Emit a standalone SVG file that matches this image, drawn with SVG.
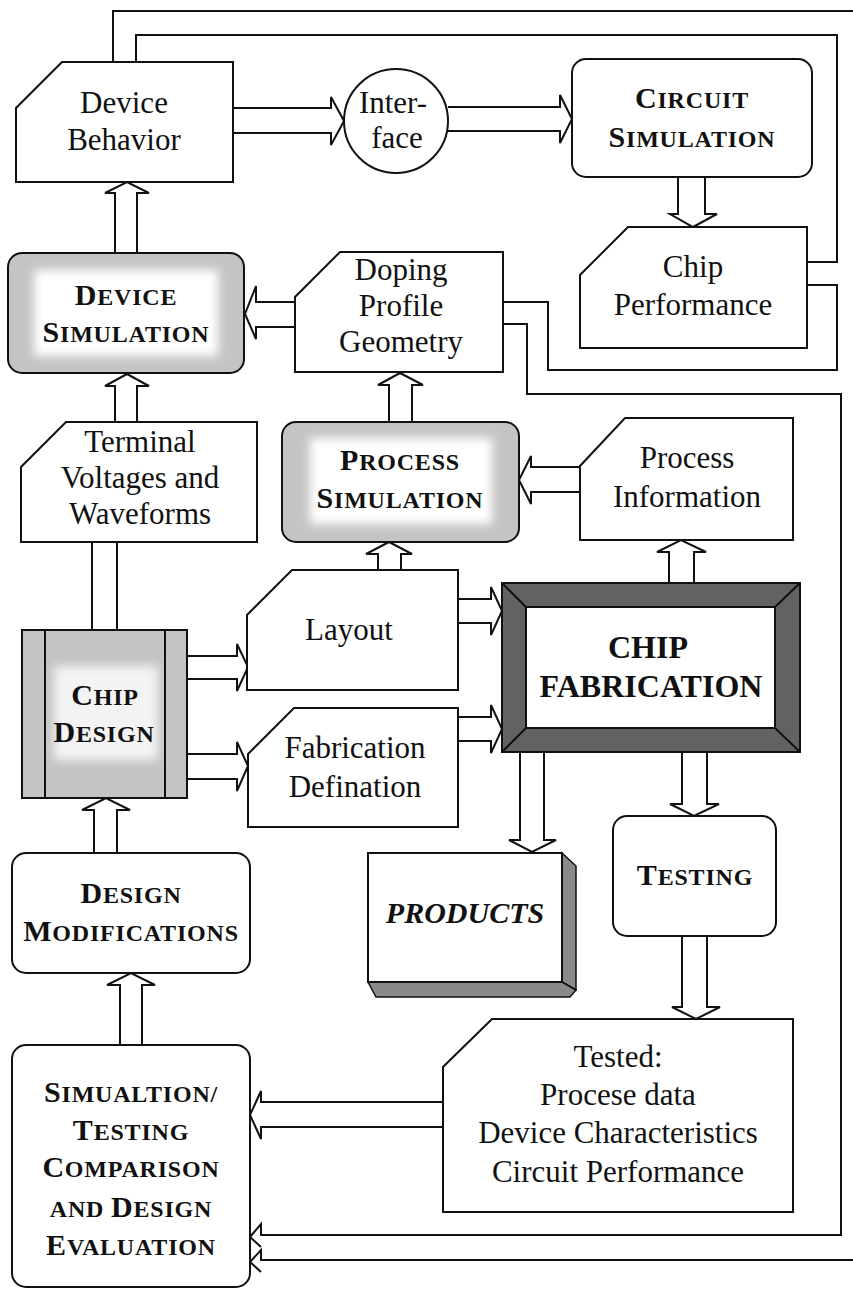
<svg xmlns="http://www.w3.org/2000/svg" width="853" height="1289" viewBox="0 0 853 1289">
  <defs>
    <style>
      .box { fill: #fff; stroke: #111; stroke-width: 2; }
      .edge { fill: none; stroke: #111; stroke-width: 2; }
      .conn { fill: none; stroke: #111; stroke-width: 2; stroke-linejoin: miter; }
      .lbl { font-family: "Liberation Serif", "Times New Roman", serif; font-size: 31px; text-anchor: middle; fill: #111; }
      .sc { font-family: "Liberation Serif", "Times New Roman", serif; font-size: 24px; font-weight: bold; text-anchor: middle; fill: #111; letter-spacing: 0.8px; }
      .cap { font-size: 30px; }
      .caps { font-family: "Liberation Serif", "Times New Roman", serif; font-size: 32px; font-weight: bold; text-anchor: middle; fill: #111; }
      .prod { font-family: "Liberation Serif", "Times New Roman", serif; font-size: 30px; font-weight: bold; font-style: italic; text-anchor: middle; fill: #111; }
      .tone { fill: #c4c4c4; }
      .dark { fill: #626262; }
      .shade { fill: #8a8a8a; stroke: #111; stroke-width: 1.5; }
    </style>
    <filter id="soft" x="-30%" y="-30%" width="160%" height="160%">
      <feGaussianBlur stdDeviation="5"/>
    </filter>
  </defs>

  <!-- connectors: hollow block arrows and feedback channels -->
  <g id="connectors" class="conn">
    <!-- Device Simulation -> Device Behavior -->
    <path d="M115 253 V193 H105 L127 182 L149 193 H137 V253"/>
    <!-- Terminal Voltages -> Device Simulation -->
    <path d="M115 422 V386 H105 L127 374 L149 386 H137 V422"/>
    <!-- Chip Design -> Terminal Voltages -->
    <path d="M92 630 V542 M117 630 V542"/>
    <!-- Process Simulation -> Doping Profile -->
    <path d="M389 422 V385 H378 L400 373 L423 385 H412 V422"/>
    <!-- Layout -> Process Simulation -->
    <path d="M378 570 V554 H366 L389 542 L412 554 H401 V570"/>
    <!-- Chip Fabrication -> Process Information -->
    <path d="M669 583 V552 H657 L681 540 L706 552 H694 V583"/>
    <!-- Design Modifications -> Chip Design -->
    <path d="M94 853 V810 H82 L106 798 L130 810 H117 V853"/>
    <!-- Simulation/Testing -> Design Modifications -->
    <path d="M120 1045 V985 H107 L131 973 L155 985 H142 V1045"/>
    <!-- Circuit Simulation -> Chip Performance -->
    <path d="M678 177 V214 H670 L693 227 L717 214 H705 V177"/>
    <!-- Chip Fabrication -> Products -->
    <path d="M520 752 V840 H509 L532 852 L556 840 H544 V752"/>
    <!-- Chip Fabrication -> Testing -->
    <path d="M682 752 V804 H670 L694 816 L719 804 H707 V752"/>
    <!-- Testing -> Tested data -->
    <path d="M682 936 V1007 H672 L696 1019 L720 1007 H707 V936"/>
    <!-- Device Behavior -> Interface -->
    <path d="M233 108 H331 V97 L344 121 L331 145 V133 H233"/>
    <!-- Interface -> Circuit Simulation -->
    <path d="M448 107 H560 V95 L572 119 L560 143 V131 H448"/>
    <!-- Chip Design -> Layout -->
    <path d="M187 656 H237 V644 L248 667 L237 691 V679 H187"/>
    <!-- Chip Design -> Fabrication Defination -->
    <path d="M187 754 H237 V742 L248 766 L237 791 V779 H187"/>
    <!-- Layout -> Chip Fabrication -->
    <path d="M458 599 H491 V587 L502 611 L491 635 V623 H458"/>
    <!-- Fabrication Defination -> Chip Fabrication -->
    <path d="M458 717 H491 V705 L502 729 L491 753 V741 H458"/>
    <!-- Doping Profile -> Device Simulation -->
    <path d="M295 302 H256 V286 L245 314 L256 339 V327 H295"/>
    <!-- Process Information -> Process Simulation -->
    <path d="M580 467 H531 V456 L519 480 L531 504 V492 H580"/>
    <!-- Tested data -> Simulation/Testing -->
    <path d="M443 1102 H261 V1091 L250 1115 L261 1139 V1127 H443"/>

    <!-- feedback: Chip Performance -> Device Behavior -->
    <path d="M113 62 V11 H860"/>
    <path d="M136 62 V35 H837 V262 H807"/>
    <!-- feedback loop between Doping Profile and Chip Performance -->
    <path d="M807 285 H837 V370 H548 V302 H503"/>
    <!-- feedback: Doping Profile -> Simulation/Testing -->
    <path d="M503 324 H527 V394 H841 V1235 H261 V1224 L250 1237 L261 1247"/>
    <path d="M860 1260 H261 V1250 L250 1262 L261 1272"/>
  </g>

  <!-- Device Behavior -->
  <g id="device-behavior">
    <path class="box" d="M62 62 H233 V182 H16 V108 Z"/>
    <text class="lbl" x="124" y="113">Device</text>
    <text class="lbl" x="124" y="150">Behavior</text>
  </g>

  <!-- Interface -->
  <g id="interface">
    <circle class="box" cx="396" cy="121" r="52"/>
    <text class="lbl" x="393" y="113">Inter-</text>
    <text class="lbl" x="397" y="148">face</text>
  </g>

  <!-- Circuit Simulation -->
  <g id="circuit-simulation">
    <rect class="box" x="572" y="59" width="240" height="118" rx="14"/>
    <text class="sc" x="692" y="108"><tspan class="cap">C</tspan>IRCUIT</text>
    <text class="sc" x="692" y="147"><tspan class="cap">S</tspan>IMULATION</text>
  </g>

  <!-- Chip Performance -->
  <g id="chip-performance">
    <path class="box" d="M628 227 H807 V348 H580 V275 Z"/>
    <text class="lbl" x="693" y="277">Chip</text>
    <text class="lbl" x="693" y="315">Performance</text>
  </g>

  <!-- Device Simulation -->
  <g id="device-simulation">
    <rect class="tone" x="8" y="253" width="236" height="120" rx="14"/>
    <rect x="34" y="270" width="184" height="86" fill="#fff" filter="url(#soft)"/>
    <rect class="edge" x="8" y="253" width="236" height="120" rx="14"/>
    <text class="sc" x="126" y="305"><tspan class="cap">D</tspan>EVICE</text>
    <text class="sc" x="126" y="342"><tspan class="cap">S</tspan>IMULATION</text>
  </g>

  <!-- Doping Profile Geometry -->
  <g id="doping-profile">
    <path class="box" d="M340 252 H503 V372 H295 V297 Z"/>
    <text class="lbl" x="401" y="280">Doping</text>
    <text class="lbl" x="401" y="316">Profile</text>
    <text class="lbl" x="401" y="352">Geometry</text>
  </g>

  <!-- Terminal Voltages and Waveforms -->
  <g id="terminal-voltages">
    <path class="box" d="M66 422 H257 V542 H21 V467 Z"/>
    <text class="lbl" x="140" y="452">Terminal</text>
    <text class="lbl" x="140" y="488">Voltages and</text>
    <text class="lbl" x="140" y="524">Waveforms</text>
  </g>

  <!-- Process Simulation -->
  <g id="process-simulation">
    <rect class="tone" x="282" y="422" width="237" height="120" rx="14"/>
    <rect x="310" y="438" width="182" height="86" fill="#fff" filter="url(#soft)"/>
    <rect class="edge" x="282" y="422" width="237" height="120" rx="14"/>
    <text class="sc" x="400" y="470"><tspan class="cap">P</tspan>ROCESS</text>
    <text class="sc" x="400" y="508"><tspan class="cap">S</tspan>IMULATION</text>
  </g>

  <!-- Process Information -->
  <g id="process-information">
    <path class="box" d="M625 418 H793 V540 H580 V466 Z"/>
    <text class="lbl" x="687" y="468">Process</text>
    <text class="lbl" x="687" y="507">Information</text>
  </g>

  <!-- Chip Design -->
  <g id="chip-design">
    <rect class="tone" x="22" y="630" width="165" height="168"/>
    <rect x="54" y="666" width="104" height="94" fill="#fff" opacity="0.8" filter="url(#soft)"/>
    <rect class="edge" x="22" y="630" width="165" height="168"/>
    <path class="edge" d="M45 630 V798 M165 630 V798"/>
    <text class="sc" x="105" y="705"><tspan class="cap">C</tspan>HIP</text>
    <text class="sc" x="104" y="742"><tspan class="cap">D</tspan>ESIGN</text>
  </g>

  <!-- Layout -->
  <g id="layout">
    <path class="box" d="M292 570 H458 V690 H247 V615 Z"/>
    <text class="lbl" x="349" y="640">Layout</text>
  </g>

  <!-- Fabrication Defination -->
  <g id="fabrication-defination">
    <path class="box" d="M294 708 H458 V827 H248 V754 Z"/>
    <text class="lbl" x="355" y="758">Fabrication</text>
    <text class="lbl" x="355" y="797">Defination</text>
  </g>

  <!-- Chip Fabrication: bevelled frame -->
  <g id="chip-fabrication">
    <rect class="dark" x="502" y="583" width="298" height="169"/>
    <rect x="526" y="607" width="249" height="121" fill="#fff" stroke="#111" stroke-width="2"/>
    <rect class="edge" x="502" y="583" width="298" height="169"/>
    <path class="edge" d="M502 583 L526 607 M800 583 L775 607 M502 752 L526 728 M800 752 L775 728"/>
    <text class="caps" x="648" y="658">CHIP</text>
    <text class="caps" x="651" y="697">FABRICATION</text>
  </g>

  <!-- Products: box with shaded sides -->
  <g id="products">
    <path class="shade" d="M562 853 L576 866 V990 L562 982 Z"/>
    <path class="shade" d="M368 982 H562 L576 990 L570 997 H376 Z"/>
    <rect class="box" x="368" y="853" width="194" height="129"/>
    <text class="prod" x="465" y="923">PRODUCTS</text>
  </g>

  <!-- Testing -->
  <g id="testing">
    <rect class="box" x="613" y="816" width="163" height="120" rx="14"/>
    <text class="sc" x="695" y="885"><tspan class="cap">T</tspan>ESTING</text>
  </g>

  <!-- Design Modifications -->
  <g id="design-modifications">
    <rect class="box" x="12" y="853" width="238" height="120" rx="14"/>
    <text class="sc" x="131" y="903"><tspan class="cap">D</tspan>ESIGN</text>
    <text class="sc" x="131" y="941"><tspan class="cap">M</tspan>ODIFICATIONS</text>
  </g>

  <!-- Tested data -->
  <g id="tested-data">
    <path class="box" d="M492 1019 H793 V1212 H443 V1067 Z"/>
    <text class="lbl" x="618" y="1067">Tested:</text>
    <text class="lbl" x="618" y="1105">Procese data</text>
    <text class="lbl" x="618" y="1143">Device Characteristics</text>
    <text class="lbl" x="618" y="1182">Circuit Performance</text>
  </g>

  <!-- Simulation / Testing Comparison and Design Evaluation -->
  <g id="comparison-evaluation">
    <rect class="box" x="12" y="1045" width="238" height="242" rx="14"/>
    <text class="sc" x="131" y="1102"><tspan class="cap">S</tspan>IMUALTION/</text>
    <text class="sc" x="131" y="1140"><tspan class="cap">T</tspan>ESTING</text>
    <text class="sc" x="131" y="1177"><tspan class="cap">C</tspan>OMPARISON</text>
    <text class="sc" x="131" y="1217">AND <tspan class="cap">D</tspan>ESIGN</text>
    <text class="sc" x="131" y="1255"><tspan class="cap">E</tspan>VALUATION</text>
  </g>
</svg>
